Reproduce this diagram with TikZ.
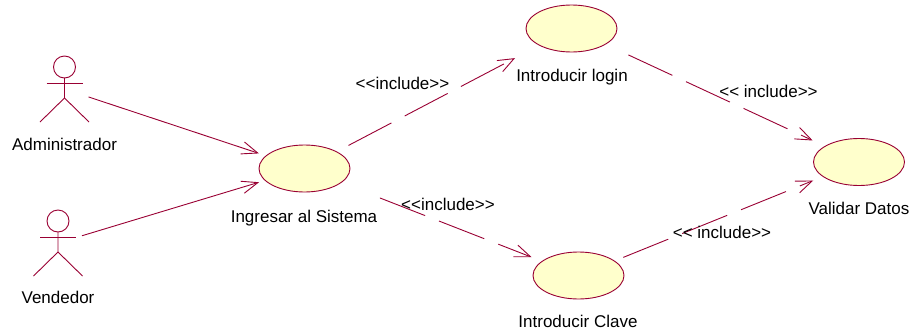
\documentclass[tikz,border=0pt]{standalone}
\usepackage{fontspec}
\setmainfont{Liberation Sans}
\usetikzlibrary{arrows.meta,shapes.geometric}
\definecolor{umlline}{HTML}{990033}
\definecolor{umlfill}{HTML}{FFFFCC}
\tikzstyle{usecase}=[ellipse,draw=umlline,fill=umlfill,line width=0.9pt,minimum width=91pt,minimum height=47pt,inner sep=0pt,outer sep=0pt]
\tikzstyle{actor}=[rectangle,minimum width=48pt,minimum height=66pt,inner sep=0pt,outer sep=0pt]
\tikzstyle{stick}=[draw=umlline,line width=0.9pt]
\tikzstyle{edge}=[draw=umlline,line width=0.9pt,-{Straight Barb[length=16pt,width=12.5pt]}]
\tikzstyle{includeedge}=[edge,dash pattern=on 48.5pt off 15pt]
\tikzstyle{caption}=[font=\fontsize{17}{20}\selectfont,anchor=base,inner sep=0pt,text=black]

\begin{document}
\begin{tikzpicture}[x=1pt,y=-1pt]
    \useasboundingbox (0,0) rectangle (914,335);

    \foreach \pos/\name in {{(304.5,168.5)/ingresar},{(571.5,28.5)/login},{(578.5,275.5)/clave},{(859,162)/validar}}
        \node[usecase] (\name) at \pos {};

    \foreach \pos/\name in {{(64.5,89)/admin},{(58,243)/vendedor}}
        \node[actor] (\name) at \pos {};

    % stick figures
    \foreach \name in {admin,vendedor} {
        \path[stick] (\name) ++(0,-22) circle (11);
        \path[stick] (\name) ++(0,-11) -- ++(0,20) -- ++(-24.5,24);
        \path[stick] (\name) ++(0,9) -- ++(24.5,24);
        \path[stick] (\name) ++(-18,-5.5) -- ++(36,0);
    }

    % Connect actors and use cases
    \foreach \source/\dest/\gap in {admin/ingresar/7.7,vendedor/ingresar/6.5}
        \path[edge,shorten >=\gap pt] (\source) -- (\dest);
    \foreach \source/\dest/\gapa/\gapb in {ingresar/login/13.6/27.7,ingresar/clave/42/11.3,login/validar/25.4/13.8,clave/validar/9.7/10.7}
        \path[includeedge,shorten <=\gapa pt,shorten >=\gapb pt] (\source) -- (\dest);

    % names
    \foreach \pos/\name/\txt in {{(64.5,150)/adminlabel/Administrador},{(58,303)/vendedorlabel/Vendedor},
            {(304,222)/ingresarlabel/Ingresar al Sistema},{(572,81)/loginlabel/Introducir login},
            {(578,327)/clavelabel/Introducir Clave},{(859,214)/validarlabel/Validar Datos}}
        \node[caption] (\name) at \pos {\txt};

    % stereotypes
    \foreach \pos/\name/\txt in {{(402.5,89)/inclogin/<{}<include>{}>},{(448,210.7)/incclave/<{}<include>{}>},
            {(768.5,97.3)/valogin/<{}< include>{}>},{(722,238)/vaclave/<{}< include>{}>}}
        \node[caption] (\name) at \pos {\txt};
\end{tikzpicture}
\end{document}
